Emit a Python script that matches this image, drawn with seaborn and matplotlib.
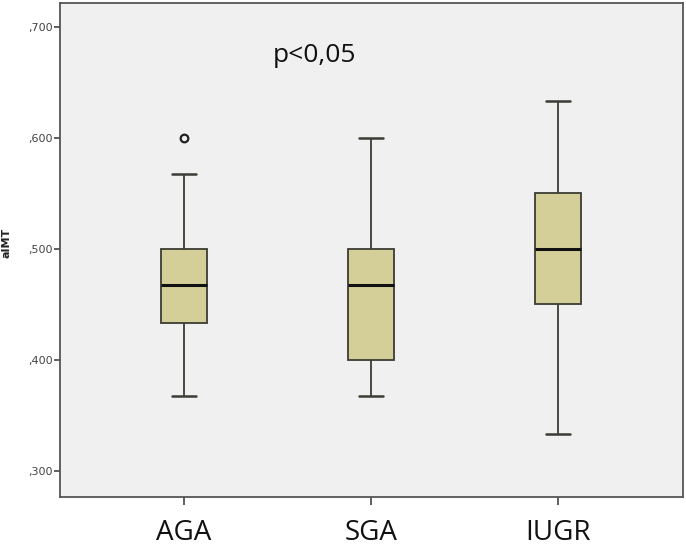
import numpy as np
import pandas as pd
import matplotlib
matplotlib.use("Agg")
import matplotlib.pyplot as plt
import seaborn as sns

groups = ["AGA", "SGA", "IUGR"]
aga_values = [0.367, 0.400, 0.433, 0.450, 0.467, 0.483, 0.500, 0.567, 0.600]
sga_values = [0.367, 0.383, 0.400, 0.433, 0.467, 0.483, 0.500, 0.550, 0.600]
iugr_values = [0.333, 0.400, 0.450, 0.483, 0.500, 0.517, 0.550, 0.600, 0.633]
y_ticks = [0.300, 0.400, 0.500, 0.600, 0.700]
y_tick_labels = [",300", ",400", ",500", ",600", ",700"]

df = pd.DataFrame({
    "group": ["AGA"] * len(aga_values) + ["SGA"] * len(sga_values) + ["IUGR"] * len(iugr_values),
    "aIMT": aga_values + sga_values + iugr_values,
})

sns.set_style("ticks")
plt.rcParams["font.family"] = ["DejaVu Sans"]

fig = plt.figure(figsize=(6.86, 5.49), dpi=100)
ax = fig.add_axes([0.0875, 0.0947, 0.9081, 0.9004])
ax.set_facecolor("#f0f0f0")

edge = "#3c3c34"
sns.boxplot(data=df, x="group", y="aIMT", order=groups, ax=ax, width=0.25,
            whis=1.4, color="#d4cf99", saturation=1,
            boxprops=dict(edgecolor=edge, linewidth=1.3),
            whiskerprops=dict(color=edge, linewidth=1.3),
            capprops=dict(color=edge, linewidth=1.8),
            medianprops=dict(color="#111111", linewidth=2.2),
            flierprops=dict(marker="o", markersize=5.5, markerfacecolor="none",
                            markeredgecolor="#222222", markeredgewidth=1.6),
            capwidths=0.125)

ax.set_xlim(-0.663, 2.668)
ax.set_ylim(0.2763, 0.7216)
ax.set_yticks(y_ticks)
ax.set_yticklabels(y_tick_labels, fontsize=8, color="#444444")
ax.set_xticks(range(len(groups)))
ax.set_xticklabels(groups, fontsize=20, fontfamily="Open Sans", color="#111111")
ax.tick_params(axis="y", length=4, width=1.2, color="#444444", pad=1)
ax.tick_params(axis="x", length=6, width=1.2, color="#444444", pad=10)
ax.set_xlabel("")
ax.set_ylabel("aIMT", fontsize=8, fontweight="bold", color="#222222")
ax.yaxis.set_label_coords(-0.078, 0.514)
for s in ax.spines.values():
    s.set_visible(True)
    s.set_color("#555555")
    s.set_linewidth(1.3)

ax.text(0.409, 0.894, "p<0,05", transform=ax.transAxes, fontsize=19,
        fontfamily="Open Sans", ha="center", va="center", color="#111111")

fig.savefig("out.png", dpi=100)
